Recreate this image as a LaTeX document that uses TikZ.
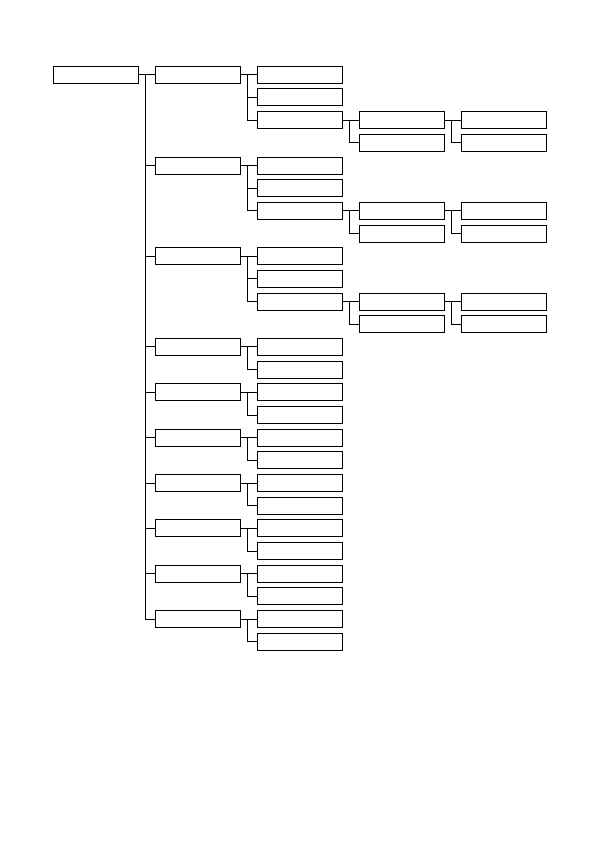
\documentclass[tikz,border=0pt]{standalone}
\begin{document}
\begin{tikzpicture}[x=1pt,y=-1pt,
  bx/.style={draw,line width=1pt,minimum width=85.4pt,minimum height=17pt,inner sep=0pt,outer sep=0pt},
  link/.style={line width=1pt}]
\useasboundingbox (0,0) rectangle (595,843);
\newcommand\bx[3]{\node[bx] (#1) at ({96+102*(#2)},{74.8+22.68*(#3)}) {};}
\newcommand\lk[2]{\draw[link] (#1.east) -- ++(7,0) |- (#2.west);}
\bx{r}{0}{0}
% groups with deep subtrees
\foreach \g/\rr in {1/0,2/4,3/8}{
  \bx{a\g}{1}{\rr}
  \bx{b\g x}{2}{\rr}
  \bx{b\g y}{2}{\rr+1}
  \bx{b\g z}{2}{\rr+2}
  \bx{c\g x}{3}{\rr+2}
  \bx{c\g y}{3}{\rr+3}
  \bx{d\g x}{4}{\rr+2}
  \bx{d\g y}{4}{\rr+3}
  \lk{r}{a\g}
  \lk{a\g}{b\g x}
  \lk{a\g}{b\g y}
  \lk{a\g}{b\g z}
  \lk{b\g z}{c\g x}
  \lk{b\g z}{c\g y}
  \lk{c\g x}{d\g x}
  \lk{c\g x}{d\g y}
}
% simple groups
\foreach \g/\rr in {4/12,5/14,6/16,7/18,8/20,9/22,10/24}{
  \bx{a\g}{1}{\rr}
  \bx{b\g x}{2}{\rr}
  \bx{b\g y}{2}{\rr+1}
  \lk{r}{a\g}
  \lk{a\g}{b\g x}
  \lk{a\g}{b\g y}
}
\end{tikzpicture}
\end{document}
